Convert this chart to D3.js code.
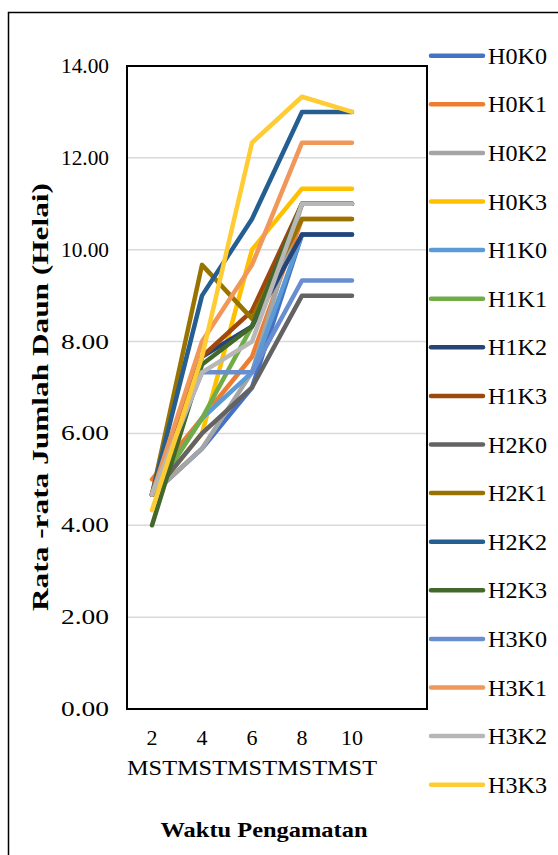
<!DOCTYPE html>
<html>
<head>
<meta charset="utf-8">
<script src="https://cdn.jsdelivr.net/npm/d3@7"></script>
<style>
  body { margin: 0; background: #fff; }
  svg text { font-family: "Liberation Serif", "Times New Roman", serif; }
</style>
</head>
<body>
<div id="chart"></div>
<script>
// Rata-rata jumlah daun per pengamatan
const weeks = ["2", "4", "6", "8", "10", ""]
const weekUnit = "MST"
const yTicks = [0, 2, 4, 6, 8, 10, 12, 14]

const seriesNames = ["H0K0", "H0K1", "H0K2", "H0K3", "H1K0", "H1K1", "H1K2", "H1K3",
    "H2K0", "H2K1", "H2K2", "H2K3", "H3K0", "H3K1", "H3K2", "H3K3"]
const seriesColors = ["#4472C4", "#ED7D31", "#A5A5A5", "#FFC000", "#5B9BD5", "#70AD47", "#264478", "#9E480E",
    "#636363", "#997300", "#255E91", "#43682B", "#698ED0", "#F1975A", "#B7B7B7", "#FFCD33"]

const H0K0 = [4.67, 5.67, 7.00, 10.33, 10.33]
const H0K1 = [5.00, 6.33, 7.67, 10.67, 10.67]
const H0K2 = [4.67, 5.67, 7.33, 11.00, 11.00]
const H0K3 = [4.67, 6.00, 10.00, 11.33, 11.33]
const H1K0 = [4.67, 6.33, 7.33, 10.33, 10.33]
const H1K1 = [4.67, 6.33, 8.33, 11.00, 11.00]
const H1K2 = [4.67, 7.67, 8.33, 10.33, 10.33]
const H1K3 = [4.67, 7.67, 8.67, 11.00, 11.00]
const H2K0 = [4.67, 6.00, 7.00, 9.00, 9.00]
const H2K1 = [4.67, 9.67, 8.50, 10.67, 10.67]
const H2K2 = [4.67, 9.00, 10.67, 13.00, 13.00]
const H2K3 = [4.00, 7.50, 8.33, 11.00, 11.00]
const H3K0 = [4.67, 7.33, 7.33, 9.33, 9.33]
const H3K1 = [4.67, 8.00, 9.67, 12.33, 12.33]
const H3K2 = [4.67, 7.33, 8.00, 11.00, 11.00]
const H3K3 = [4.33, 7.67, 12.33, 13.33, 13.00]

const seriesValues = [H0K0, H0K1, H0K2, H0K3, H1K0, H1K1, H1K2, H1K3,
    H2K0, H2K1, H2K2, H2K3, H3K0, H3K1, H3K2, H3K3]

const width = 558, height = 855
const plot = { left: 127, right: 427, top: 66, bottom: 709 }

const svg = d3.select("#chart").append("svg")
    .attr("width", width)
    .attr("height", height)

// outer frame
svg.append("rect")
    .attr("x", 8.5).attr("y", 12.5)
    .attr("width", 620).attr("height", 900)
    .attr("fill", "none").attr("stroke", "#000").attr("stroke-width", 1.5)

const x = d3.scaleBand()
    .domain(weeks)
    .range([plot.left, plot.right])

const y = d3.scaleLinear()
    .domain([0, 14])
    .range([plot.bottom, plot.top])

// gridlines
svg.append("g")
    .selectAll("line")
    .data(yTicks.filter(d => d > 0 && d < 14))
    .join("line")
    .attr("x1", plot.left).attr("x2", plot.right)
    .attr("y1", d => y(d)).attr("y2", d => y(d))
    .attr("stroke", "#D9D9D9").attr("stroke-width", 1.5)

// y tick labels
svg.append("g")
    .selectAll("text")
    .data(yTicks)
    .join("text")
    .attr("x", 109)
    .attr("y", d => y(d) + 7)
    .attr("text-anchor", "end")
    .style("font-size", "21px")
    .attr("textLength", 48)
    .attr("lengthAdjust", "spacingAndGlyphs")
    .text(d => d.toFixed(2))

// lines
const line = d3.line()
    .x((d, i) => x(weeks[i]) + x.bandwidth() / 2)
    .y(d => y(d))

svg.append("g")
    .selectAll("path")
    .data(seriesValues)
    .join("path")
    .attr("d", d => line(d))
    .attr("fill", "none")
    .attr("stroke", (d, i) => seriesColors[i])
    .attr("stroke-width", 4.5)
    .attr("stroke-linecap", "round")
    .attr("stroke-linejoin", "round")

// plot area border
svg.append("rect")
    .attr("x", plot.left).attr("y", plot.top)
    .attr("width", plot.right - plot.left)
    .attr("height", plot.bottom - plot.top)
    .attr("fill", "none").attr("stroke", "#000").attr("stroke-width", 2)

// x labels, number over unit
const xg = svg.append("g")
    .selectAll("g")
    .data(weeks.filter(d => d !== ""))
    .join("g")
xg.append("text")
    .attr("x", d => x(d) + x.bandwidth() / 2)
    .attr("y", 745)
    .attr("text-anchor", "middle")
    .style("font-size", "22px")
    .text(d => d)
xg.append("text")
    .attr("x", d => x(d) + x.bandwidth() / 2)
    .attr("y", 775)
    .attr("text-anchor", "middle")
    .style("font-size", "22px")
    .attr("textLength", 50)
    .attr("lengthAdjust", "spacingAndGlyphs")
    .text(weekUnit)

// axis titles
svg.append("text")
    .attr("transform", "translate(48,397) rotate(-90)")
    .attr("text-anchor", "middle")
    .style("font-size", "24px")
    .style("font-weight", "bold")
    .attr("textLength", 428)
    .attr("lengthAdjust", "spacingAndGlyphs")
    .text("Rata -rata Jumlah Daun (Helai)")

svg.append("text")
    .attr("x", 264).attr("y", 837)
    .attr("text-anchor", "middle")
    .style("font-size", "22px")
    .style("font-weight", "bold")
    .attr("textLength", 207)
    .attr("lengthAdjust", "spacingAndGlyphs")
    .text("Waktu Pengamatan")

// legend
const legend = svg.append("g")
    .selectAll("g")
    .data(seriesNames)
    .join("g")
    .attr("transform", (d, i) => `translate(0,${55.7 + i * 48.6})`)

legend.append("line")
    .attr("x1", 431).attr("x2", 483)
    .attr("stroke", (d, i) => seriesColors[i])
    .attr("stroke-width", 4.5)
    .attr("stroke-linecap", "round")

legend.append("text")
    .attr("x", 488).attr("y", 8)
    .style("font-size", "23px")
    .attr("textLength", 59)
    .attr("lengthAdjust", "spacingAndGlyphs")
    .text(d => d)
</script>
</body>
</html>
